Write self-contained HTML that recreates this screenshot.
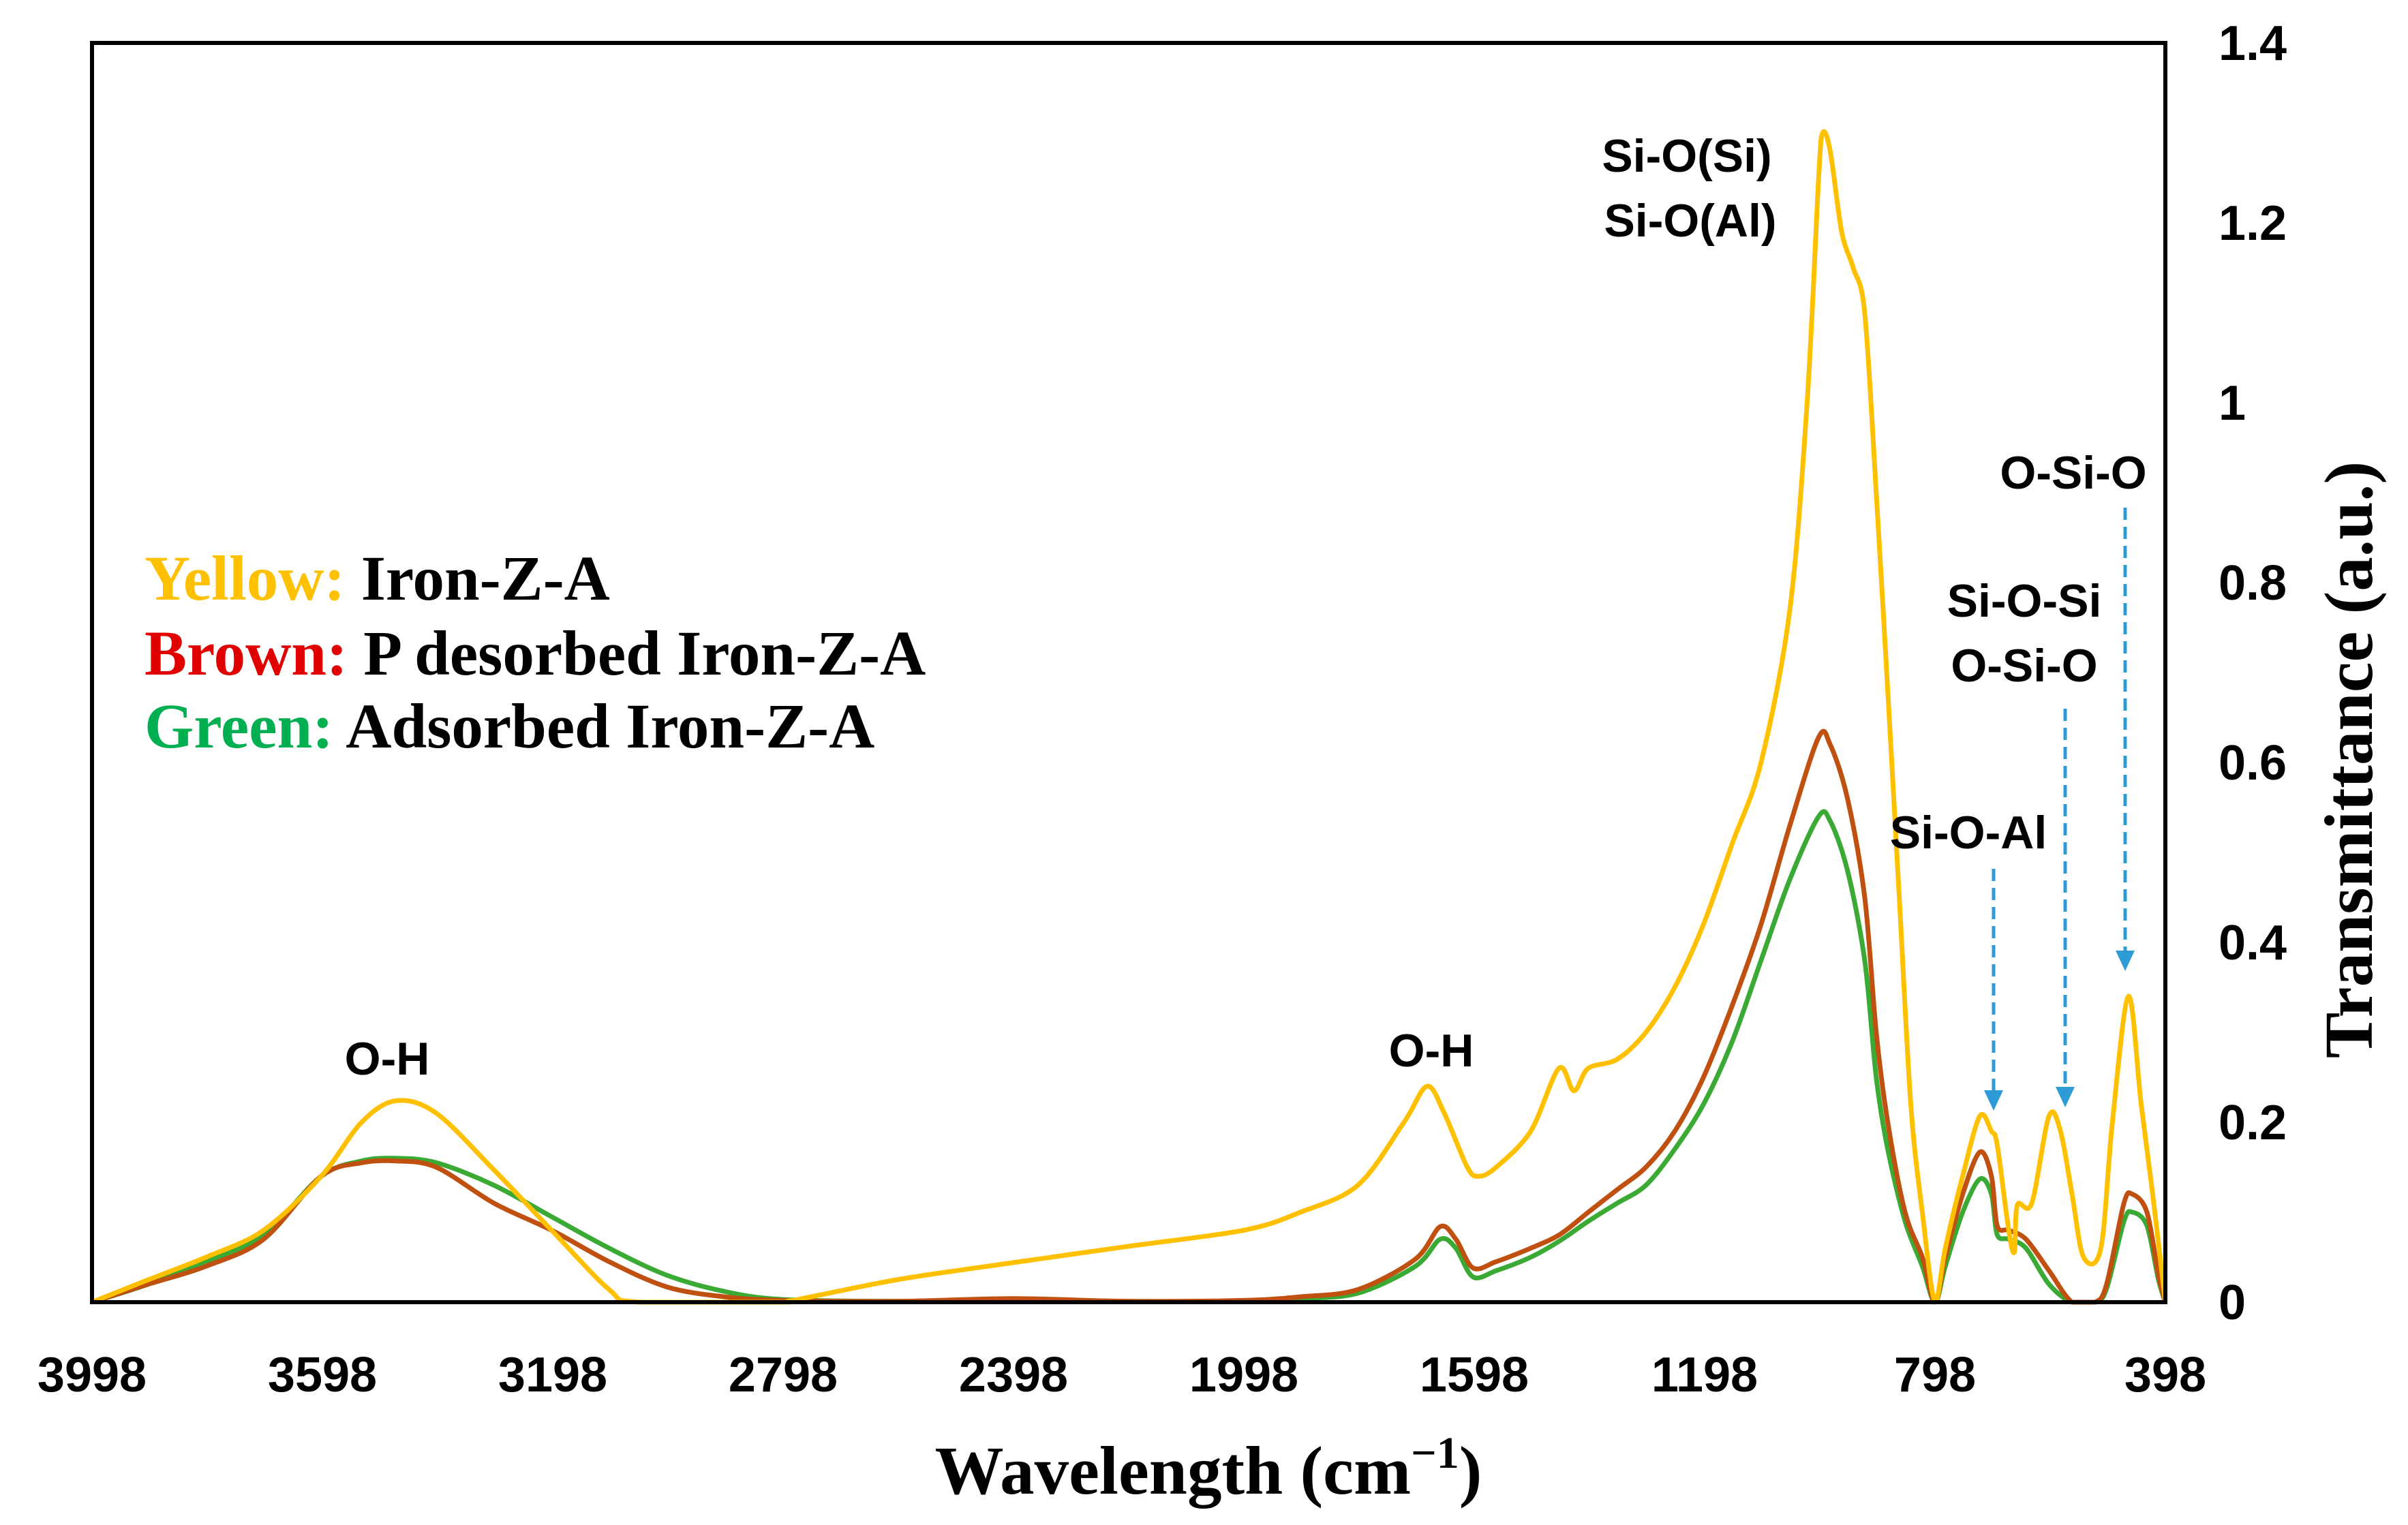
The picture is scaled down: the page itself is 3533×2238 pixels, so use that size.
<!DOCTYPE html>
<html><head><meta charset="utf-8"><style>
html,body{margin:0;padding:0;background:#fff}
svg{display:block}
.tk{font-family:"Liberation Sans",sans-serif;font-weight:bold;font-size:72px;fill:#000}
.an{font-family:"Liberation Sans",sans-serif;font-weight:bold;font-size:68px;fill:#000}
.lg{font-family:"Liberation Serif",serif;font-weight:bold;font-size:93px}
.tt{font-family:"Liberation Serif",serif;font-weight:bold;font-size:101px;fill:#000}
</style></head><body>
<svg id="chart" width="3533" height="2238" viewBox="0 0 3533 2238" xmlns="http://www.w3.org/2000/svg">
<rect x="0" y="0" width="3533" height="2238" fill="#fff"/>
<g id="series"></g>
<rect x="135" y="63" width="3042" height="1848" fill="none" stroke="#000" stroke-width="6"/>
<g id="xticks"></g>
<g id="yticks"></g>
<text class="tt" x="1773" y="2192" text-anchor="middle">Wavelength (cm<tspan font-size="66" dy="-38">−1</tspan><tspan dy="38">)</tspan></text>
<text class="tt" transform="translate(3480,1115) rotate(-90)" text-anchor="middle">Transmittance (a.u.)</text>
<g>
<text class="lg" x="212" y="880"><tspan fill="#ffc000">Yellow:</tspan><tspan fill="#000"> Iron-Z-A</tspan></text>
<text class="lg" x="212" y="990"><tspan fill="#e00000">Brown:</tspan><tspan fill="#000"> P desorbed Iron-Z-A</tspan></text>
<text class="lg" x="212" y="1097"><tspan fill="#00b050">Green:</tspan><tspan fill="#000"> Adsorbed Iron-Z-A</tspan></text>
</g>
<text class="an" x="2475" y="252" text-anchor="middle">Si-O(Si)</text>
<text class="an" x="2480" y="347" text-anchor="middle">Si-O(Al)</text>
<text class="an" x="568" y="1577" text-anchor="middle">O-H</text>
<text class="an" x="2100" y="1565" text-anchor="middle">O-H</text>
<text class="an" x="2888" y="1245" text-anchor="middle">Si-O-Al</text>
<text class="an" x="2970" y="905" text-anchor="middle">Si-O-Si</text>
<text class="an" x="2970" y="1000" text-anchor="middle">O-Si-O</text>
<text class="an" x="3042" y="717" text-anchor="middle">O-Si-O</text>
<g stroke="#2e9bd6" stroke-width="5" stroke-dasharray="18,10" fill="#2e9bd6">
<line x1="2925" y1="1275" x2="2925" y2="1605"/>
<polygon points="2911,1600 2939,1600 2925,1630" stroke="none"/>
<line x1="3030" y1="1040" x2="3030" y2="1600"/>
<polygon points="3016,1595 3044,1595 3030,1625" stroke="none"/>
<line x1="3118" y1="745" x2="3118" y2="1400"/>
<polygon points="3104,1395 3132,1395 3118,1425" stroke="none"/>
</g>
</svg>
<script>
const xTicks = [3998,3598,3198,2798,2398,1998,1598,1198,798,398];
const yTicks = [0,0.2,0.4,0.6,0.8,1,1.2,1.4];
const yTickLabels = ["0","0.2","0.4","0.6","0.8","1","1.2","1.4"];
const wnYellow = [3998,3900,3800,3700,3600,3530,3470,3400,3300,3200,3100,3048,2800,2780,2600,2398,2200,1998,1900,1800,1720,1680,1650,1610,1590,1560,1500,1451,1425,1400,1350,1300,1250,1200,1150,1100,1050,1020,1000,993,980,960,940,920,900,880,860,840,820,798,780,750,720,700,690,670,660,655,630,600,580,560,540,510,490,462,440,420,398];
const valYellow = [0,0.025,0.05,0.08,0.14,0.2,0.224,0.21,0.147,0.08,0.014,0,0,0.002,0.025,0.044,0.062,0.08,0.1,0.13,0.2,0.24,0.21,0.15,0.14,0.15,0.19,0.26,0.235,0.26,0.27,0.3,0.35,0.42,0.51,0.6,0.77,1.0,1.25,1.30,1.28,1.19,1.15,1.1,0.9,0.68,0.45,0.22,0.1,0,0.06,0.14,0.207,0.19,0.175,0.08,0.056,0.108,0.11,0.207,0.19,0.12,0.05,0.06,0.2,0.34,0.22,0.12,0];
const wnBrown = [3998,3900,3800,3700,3600,3530,3470,3400,3300,3200,3100,3000,2900,2800,2600,2398,2200,1998,1900,1800,1700,1657,1630,1600,1560,1500,1450,1400,1350,1300,1250,1200,1150,1100,1050,1000,980,950,920,900,880,850,820,798,780,750,720,700,690,670,640,600,560,520,500,470,455,430,410,398];
const valBrown = [0,0.02,0.04,0.07,0.14,0.155,0.157,0.15,0.11,0.08,0.045,0.017,0.006,0.002,0.001,0.004,0.001,0.002,0.006,0.014,0.048,0.084,0.07,0.038,0.045,0.06,0.075,0.1,0.125,0.15,0.19,0.25,0.33,0.42,0.53,0.628,0.62,0.56,0.45,0.3,0.2,0.1,0.05,0,0.05,0.12,0.167,0.14,0.085,0.08,0.07,0.035,0,0,0.02,0.11,0.12,0.1,0.03,0];
const wnGreen = [3998,3900,3800,3700,3600,3530,3470,3400,3300,3200,3100,3000,2900,2800,2600,2398,2200,1998,1900,1800,1700,1657,1630,1600,1560,1500,1450,1400,1350,1300,1250,1200,1150,1100,1050,1000,980,950,920,900,880,850,820,798,780,750,720,700,690,670,640,600,560,520,500,470,455,430,410,398];
const valGreen = [0,0.02,0.045,0.075,0.14,0.157,0.16,0.155,0.13,0.095,0.06,0.03,0.012,0.003,0.001,0.002,0.001,0.001,0.004,0.01,0.04,0.07,0.06,0.028,0.035,0.05,0.068,0.09,0.11,0.13,0.17,0.22,0.29,0.38,0.47,0.54,0.535,0.48,0.38,0.25,0.17,0.09,0.04,0,0.04,0.1,0.137,0.12,0.075,0.07,0.06,0.02,0,0,0.015,0.09,0.1,0.085,0.025,0];

const L=135,R=3177,T=63,B=1911;
function xs(w){return L+(3998-w)/(3998-398)*(R-L);}
function ys(v){return B-v/1.4*(B-T);}
const NS="http://www.w3.org/2000/svg";
function smoothPath(wn,val){
  const p=wn.map((w,i)=>[xs(w),ys(val[i])]);
  let d="M"+p[0][0].toFixed(1)+","+p[0][1].toFixed(1);
  for(let i=0;i<p.length-1;i++){
    const p0=p[i-1]||p[i],p1=p[i],p2=p[i+1],p3=p[i+2]||p2;
    const t=0.16;
    let c1y=p1[1]+(p2[1]-p0[1])*t,c2y=p2[1]-(p3[1]-p1[1])*t;
    c1y=Math.min(c1y,B);c2y=Math.min(c2y,B);
    d+=" C"+(p1[0]+(p2[0]-p0[0])*t).toFixed(1)+","+c1y.toFixed(1)+" "+(p2[0]-(p3[0]-p1[0])*t).toFixed(1)+","+c2y.toFixed(1)+" "+p2[0].toFixed(1)+","+p2[1].toFixed(1);
  }
  return d;
}
const g=document.getElementById("series");
function addSeries(wn,val,color,name){
  const path=document.createElementNS(NS,"path");
  path.setAttribute("d",smoothPath(wn,val));
  path.setAttribute("fill","none");
  path.setAttribute("stroke",color);
  path.setAttribute("stroke-width","7");
  path.setAttribute("stroke-linejoin","round");
  
  
  g.appendChild(path);
}
addSeries(wnGreen,valGreen,"#3aaa35","series-green-adsorbed");
addSeries(wnBrown,valBrown,"#c0500f","series-brown-desorbed");
addSeries(wnYellow,valYellow,"#ffc000","series-yellow-iron-z-a");

const xg=document.getElementById("xticks");
xTicks.forEach(w=>{
  const t=document.createElementNS(NS,"text");
  t.setAttribute("x",xs(w));t.setAttribute("y",2042);
  t.setAttribute("text-anchor","middle");t.setAttribute("class","tk");
  t.textContent=w;
  
  
  xg.appendChild(t);
});
const yg=document.getElementById("yticks");
yTicks.forEach((v,i)=>{
  const t=document.createElementNS(NS,"text");
  t.setAttribute("x",3255);t.setAttribute("y",ys(v)+25);
  t.setAttribute("class","tk");
  t.textContent=yTickLabels[i];
  
  
  yg.appendChild(t);
});
</script>
</body></html>
